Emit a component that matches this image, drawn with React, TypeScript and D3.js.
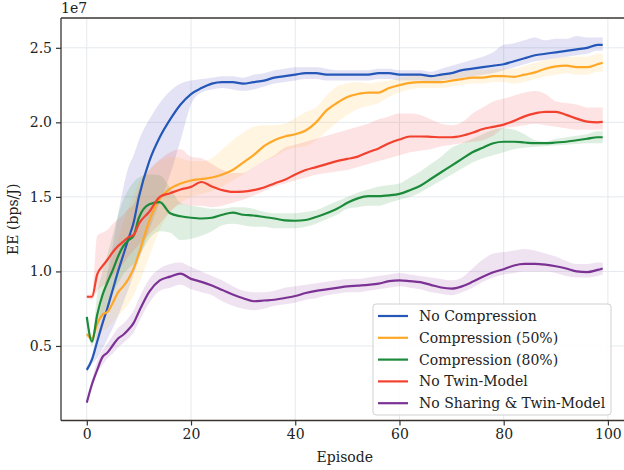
import { useEffect, useRef } from "react";
import * as d3 from "d3";

// episodes sampled from the curves (dense at the start, where they move fast)
const EPISODES = [0, 1, 2, 3, 4, 5, 6, 7, 8, 9, 10,
  12, 14, 16, 18, 20, 22, 24, 26, 28, 30, 32, 34, 36, 38, 40,
  42, 44, 46, 48, 50, 52, 54, 56, 58, 60, 62, 64, 66, 68, 70,
  72, 74, 76, 78, 80, 82, 84, 86, 88, 90, 92, 94, 96, 98, 99];

// values in units of 1e7 bps/J
const NO_COMP = [0.34, 0.41, 0.53, 0.65, 0.76, 0.88, 1.0, 1.11, 1.22, 1.33, 1.5,
  1.74, 1.9, 2.02, 2.12, 2.19, 2.23, 2.26, 2.27, 2.27, 2.26, 2.27, 2.28, 2.3, 2.31, 2.32,
  2.33, 2.33, 2.32, 2.32, 2.32, 2.32, 2.32, 2.33, 2.33, 2.32, 2.32, 2.32, 2.31, 2.32, 2.33,
  2.35, 2.36, 2.37, 2.38, 2.39, 2.41, 2.43, 2.45, 2.46, 2.47, 2.48, 2.49, 2.5, 2.52, 2.52];
const NO_COMP_HI = [0.36, 0.44, 0.62, 0.82, 1.0, 1.18, 1.38, 1.56, 1.7, 1.78, 1.88,
  2.02, 2.13, 2.21, 2.26, 2.28, 2.29, 2.3, 2.31, 2.31, 2.3, 2.32, 2.33, 2.35, 2.36, 2.37,
  2.37, 2.37, 2.36, 2.35, 2.35, 2.35, 2.35, 2.36, 2.36, 2.35, 2.35, 2.35, 2.34, 2.36, 2.38,
  2.4, 2.42, 2.44, 2.47, 2.52, 2.53, 2.55, 2.57, 2.55, 2.56, 2.56, 2.58, 2.57, 2.57, 2.57];
const NO_COMP_LO = [0.32, 0.38, 0.42, 0.48, 0.55, 0.62, 0.7, 0.79, 0.88, 0.98, 1.08,
  1.28, 1.46, 1.65, 1.88, 2.12, 2.2, 2.22, 2.23, 2.22, 2.21, 2.22, 2.24, 2.26, 2.27, 2.28,
  2.29, 2.29, 2.28, 2.28, 2.28, 2.28, 2.28, 2.29, 2.29, 2.28, 2.28, 2.28, 2.27, 2.28, 2.29,
  2.3, 2.31, 2.32, 2.33, 2.35, 2.37, 2.39, 2.41, 2.42, 2.43, 2.44, 2.45, 2.46, 2.48, 2.48];

const COMP50 = [0.58, 0.55, 0.65, 0.71, 0.73, 0.79, 0.86, 0.9, 0.95, 1.02, 1.12,
  1.34, 1.49, 1.555, 1.59, 1.61, 1.62, 1.63, 1.65, 1.68, 1.73, 1.78, 1.84, 1.88, 1.905, 1.92,
  1.945, 2.0, 2.08, 2.13, 2.17, 2.19, 2.2, 2.2, 2.23, 2.25, 2.265, 2.27, 2.27, 2.27, 2.28,
  2.29, 2.3, 2.3, 2.31, 2.31, 2.305, 2.32, 2.335, 2.36, 2.375, 2.38, 2.37, 2.37, 2.39, 2.4];
const COMP50_HI = [0.6, 0.58, 0.74, 0.88, 0.98, 1.1, 1.22, 1.33, 1.43, 1.52, 1.6,
  1.68, 1.74, 1.77, 1.76, 1.74, 1.74, 1.76, 1.82, 1.88, 1.93, 1.97, 1.98, 1.98, 1.99, 2.03,
  2.07, 2.1, 2.18, 2.24, 2.26, 2.27, 2.26, 2.27, 2.28, 2.3, 2.31, 2.32, 2.32, 2.32, 2.33,
  2.34, 2.35, 2.35, 2.36, 2.36, 2.36, 2.38, 2.4, 2.42, 2.43, 2.44, 2.44, 2.44, 2.46, 2.46];
const COMP50_LO = [0.56, 0.52, 0.56, 0.6, 0.62, 0.66, 0.7, 0.74, 0.78, 0.84, 0.92,
  1.1, 1.28, 1.4, 1.46, 1.5, 1.52, 1.54, 1.57, 1.61, 1.65, 1.7, 1.74, 1.77, 1.81, 1.83,
  1.84, 1.88, 1.94, 2.0, 2.05, 2.09, 2.11, 2.13, 2.17, 2.2, 2.22, 2.23, 2.23, 2.23, 2.24,
  2.25, 2.26, 2.26, 2.27, 2.27, 2.26, 2.27, 2.29, 2.31, 2.32, 2.33, 2.32, 2.32, 2.34, 2.34];

const COMP80 = [0.695, 0.53, 0.71, 0.84, 0.93, 1.01, 1.1, 1.17, 1.21, 1.24, 1.36,
  1.45, 1.465, 1.39, 1.37, 1.36, 1.355, 1.36, 1.38, 1.395, 1.38, 1.375, 1.365, 1.355, 1.343, 1.34,
  1.345, 1.365, 1.39, 1.42, 1.46, 1.49, 1.505, 1.505, 1.51, 1.52, 1.545, 1.575, 1.62, 1.665, 1.71,
  1.755, 1.8, 1.83, 1.86, 1.87, 1.87, 1.865, 1.86, 1.86, 1.865, 1.87, 1.88, 1.89, 1.9, 1.9];
const COMP80_HI = [0.7, 0.55, 0.85, 1.0, 1.12, 1.25, 1.38, 1.48, 1.55, 1.6, 1.63,
  1.65, 1.645, 1.56, 1.46, 1.44, 1.43, 1.42, 1.42, 1.43, 1.43, 1.42, 1.4, 1.39, 1.39, 1.39,
  1.4, 1.41, 1.44, 1.47, 1.5, 1.53, 1.55, 1.57, 1.58, 1.59, 1.63, 1.67, 1.72, 1.77, 1.83,
  1.86, 1.89, 1.92, 1.95, 1.96, 1.95, 1.92, 1.88, 1.87, 1.89, 1.9, 1.91, 1.92, 1.94, 1.94];
const COMP80_LO = [0.69, 0.5, 0.62, 0.7, 0.78, 0.85, 0.92, 0.98, 1.02, 1.05, 1.1,
  1.22, 1.27, 1.26, 1.21, 1.22, 1.24, 1.27, 1.31, 1.32, 1.31, 1.3, 1.3, 1.29, 1.29, 1.29,
  1.3, 1.32, 1.35, 1.38, 1.42, 1.43, 1.44, 1.44, 1.46, 1.48, 1.5, 1.53, 1.57, 1.61, 1.65,
  1.69, 1.73, 1.76, 1.78, 1.8, 1.82, 1.83, 1.835, 1.84, 1.845, 1.85, 1.855, 1.86, 1.86, 1.86];

const NO_TWIN = [0.83, 0.83, 0.98, 1.035, 1.08, 1.13, 1.17, 1.2, 1.23, 1.245, 1.32,
  1.4, 1.5, 1.525, 1.55, 1.567, 1.6, 1.57, 1.545, 1.533, 1.535, 1.545, 1.563, 1.59, 1.615, 1.65,
  1.68, 1.7, 1.72, 1.74, 1.755, 1.77, 1.8, 1.825, 1.86, 1.885, 1.905, 1.905, 1.903, 1.9, 1.9,
  1.91, 1.93, 1.955, 1.97, 1.985, 2.01, 2.04, 2.06, 2.07, 2.07, 2.05, 2.025, 2.005, 2.0, 2.003];
const NO_TWIN_HI = [0.84, 0.85, 1.24, 1.26, 1.28, 1.32, 1.35, 1.38, 1.42, 1.45, 1.55,
  1.68, 1.75, 1.8, 1.82, 1.77, 1.76, 1.72, 1.68, 1.66, 1.66, 1.7, 1.74, 1.78, 1.83, 1.85,
  1.87, 1.89, 1.91, 1.93, 1.95, 1.97, 1.99, 2.02, 2.04, 2.06, 2.06, 2.05, 2.02, 1.99, 1.98,
  2.0, 2.06, 2.1, 2.14, 2.16, 2.18, 2.2, 2.21, 2.19, 2.14, 2.13, 2.12, 2.1, 2.1, 2.1];
const NO_TWIN_LO = [0.82, 0.81, 0.87, 0.9, 0.93, 0.97, 1.01, 1.05, 1.1, 1.14, 1.18,
  1.25, 1.32, 1.4, 1.45, 1.44, 1.44, 1.43, 1.44, 1.46, 1.48, 1.51, 1.54, 1.57, 1.59, 1.61,
  1.63, 1.65, 1.66, 1.67, 1.68, 1.7, 1.72, 1.74, 1.76, 1.78, 1.8, 1.81, 1.82, 1.84, 1.85,
  1.86, 1.87, 1.88, 1.91, 1.96, 1.97, 1.98, 1.99, 1.98, 1.97, 1.96, 1.95, 1.95, 1.95, 1.95];

const NO_SHARE = [0.12, 0.245, 0.34, 0.425, 0.457, 0.505, 0.55, 0.575, 0.61, 0.655, 0.73,
  0.865, 0.94, 0.965, 0.985, 0.95, 0.93, 0.905, 0.875, 0.845, 0.82, 0.8, 0.805, 0.81, 0.822, 0.835,
  0.855, 0.87, 0.88, 0.89, 0.9, 0.905, 0.91, 0.918, 0.935, 0.94, 0.935, 0.928, 0.91, 0.892, 0.885,
  0.9, 0.93, 0.965, 0.995, 1.015, 1.04, 1.05, 1.05, 1.045, 1.035, 1.02, 1.0, 0.995, 1.01, 1.02];
const NO_SHARE_HI = [0.13, 0.27, 0.4, 0.47, 0.52, 0.57, 0.62, 0.65, 0.69, 0.74, 0.82,
  0.95, 1.02, 1.05, 1.06, 1.03, 1.0, 0.97, 0.94, 0.9, 0.87, 0.86, 0.86, 0.87, 0.89, 0.9,
  0.91, 0.92, 0.93, 0.94, 0.95, 0.95, 0.96, 0.97, 0.98, 0.99, 0.98, 0.97, 0.96, 0.95, 0.94,
  0.96, 1.02, 1.08, 1.12, 1.13, 1.14, 1.15, 1.14, 1.12, 1.1, 1.07, 1.05, 1.05, 1.06, 1.06];
const NO_SHARE_LO = [0.11, 0.21, 0.32, 0.37, 0.42, 0.45, 0.49, 0.52, 0.55, 0.59, 0.66,
  0.79, 0.87, 0.89, 0.91, 0.88, 0.86, 0.84, 0.8, 0.77, 0.75, 0.74, 0.75, 0.77, 0.78, 0.79,
  0.81, 0.82, 0.84, 0.85, 0.86, 0.86, 0.87, 0.88, 0.89, 0.9, 0.89, 0.88, 0.86, 0.85, 0.84,
  0.86, 0.89, 0.93, 0.96, 0.98, 0.99, 1.0, 1.0, 1.0, 0.99, 0.97, 0.96, 0.96, 0.97, 0.98];

const LABELS = ["No Compression", "Compression (50%)", "Compression (80%)", "No Twin-Model", "No Sharing & Twin-Model"];
const COLORS = ["#2457b8", "#ffa726", "#1b8a3a", "#f2412e", "#7b3294"];
const BAND_COLORS = ["#5a5ac4", "#ffc44d", "#3aa04e", "#f2565a", "#a05ab4"];
const X_TICKS = [0, 20, 40, 60, 80, 100];
const Y_TICKS = [0.5, 1.0, 1.5, 2.0, 2.5];

const series = [
  { mean: NO_COMP, hi: NO_COMP_HI, lo: NO_COMP_LO },
  { mean: COMP50, hi: COMP50_HI, lo: COMP50_LO },
  { mean: COMP80, hi: COMP80_HI, lo: COMP80_LO },
  { mean: NO_TWIN, hi: NO_TWIN_HI, lo: NO_TWIN_LO },
  { mean: NO_SHARE, hi: NO_SHARE_HI, lo: NO_SHARE_LO },
];

const FONT = "DejaVu Serif";

export default function App() {
  const svgRef = useRef<SVGSVGElement>(null);

  useEffect(() => {
    const width = 624;
    const height = 470;
    const left = 61, right = 628.5, top = 18, bottom = 420.5;

    const svg = d3.select(svgRef.current);
    svg.selectAll("*").remove();

    const x = d3.scaleLinear().domain([-4.95, 103.95]).range([left, right]);
    const y = d3.scaleLinear().domain([0, 2.7]).range([bottom, top]);

    svg.append("rect").attr("width", width).attr("height", height).attr("fill", "#fff");

    // grid
    const grid = svg.append("g").attr("stroke", "#e4e9ed").attr("stroke-width", 1);
    X_TICKS.forEach((t) => {
      grid.append("line").attr("x1", x(t)).attr("x2", x(t)).attr("y1", top).attr("y2", bottom);
    });
    Y_TICKS.forEach((t) => {
      grid.append("line").attr("x1", left).attr("x2", right).attr("y1", y(t)).attr("y2", y(t));
    });

    const area = d3.area<number>()
      .x((_, i) => x(EPISODES[i]))
      .curve(d3.curveMonotoneX);
    const line = d3.line<number>()
      .x((_, i) => x(EPISODES[i]))
      .y((d) => y(d))
      .curve(d3.curveMonotoneX);

    series.forEach((s, k) => {
      svg.append("path")
        .datum(s.mean)
        .attr("d", area.y0((_, i) => y(s.lo[i])).y1((_, i) => y(s.hi[i])))
        .attr("fill", BAND_COLORS[k])
        .attr("fill-opacity", 0.17);
    });

    series.forEach((s, k) => {
      svg.append("path")
        .datum(s.mean)
        .attr("d", line)
        .attr("fill", "none")
        .attr("stroke", COLORS[k])
        .attr("stroke-width", 2.2)
        .attr("stroke-linejoin", "round");
    });

    // axes
    const xAxis = svg.append("g")
      .attr("transform", `translate(0,${bottom})`)
      .call(d3.axisBottom(x).tickValues(X_TICKS).tickSize(5).tickPadding(4).tickSizeOuter(0));
    const yAxis = svg.append("g")
      .attr("transform", `translate(${left},0)`)
      .call(d3.axisLeft(y).tickValues(Y_TICKS).tickFormat(d3.format(".1f")).tickSize(5).tickPadding(4).tickSizeOuter(0));

    [xAxis, yAxis].forEach((g) => {
      g.select(".domain").remove();
      g.selectAll("line").attr("stroke", "#333").attr("stroke-width", 1.2);
      g.selectAll("text").attr("fill", "#222").style("font-family", FONT).style("font-size", "14px");
    });

    // spines (the right one falls outside the cropped picture)
    const spine = svg.append("g").attr("stroke", "#3a3430").attr("stroke-width", 1.3);
    spine.append("line").attr("x1", left).attr("x2", left).attr("y1", top).attr("y2", bottom);
    spine.append("line").attr("x1", left).attr("x2", width).attr("y1", top).attr("y2", top);
    spine.append("line").attr("x1", left).attr("x2", width).attr("y1", bottom).attr("y2", bottom);

    svg.append("text")
      .attr("x", left).attr("y", 13)
      .attr("font-family", FONT).attr("font-size", 14).attr("fill", "#222")
      .text("1e7");

    svg.append("text")
      .attr("x", (left + right) / 2).attr("y", 462)
      .attr("text-anchor", "middle")
      .attr("font-family", FONT).attr("font-size", 14).attr("fill", "#222")
      .text("Episode");

    svg.append("text")
      .attr("transform", `translate(18,${(top + bottom) / 2}) rotate(-90)`)
      .attr("text-anchor", "middle")
      .attr("font-family", FONT).attr("font-size", 14).attr("fill", "#222")
      .text("EE (bps/J)");

    // legend
    const lg = svg.append("g").attr("transform", "translate(373,304)");
    lg.append("rect")
      .attr("width", 238).attr("height", 111).attr("rx", 3)
      .attr("fill", "#fff").attr("fill-opacity", 0.85)
      .attr("stroke", "#d0d0d0").attr("stroke-width", 1);
    LABELS.forEach((lab, i) => {
      const cy = 12 + i * 21.8;
      lg.append("line")
        .attr("x1", 5).attr("x2", 35).attr("y1", cy).attr("y2", cy)
        .attr("stroke", COLORS[i]).attr("stroke-width", 2.2);
      lg.append("text")
        .attr("x", 46).attr("y", cy + 5)
        .attr("font-family", FONT).attr("font-size", 14).attr("fill", "#222")
        .text(lab);
    });
  }, []);

  return (
    <svg
      ref={svgRef}
      width={624}
      height={470}
      style={{ position: "absolute", left: 0, top: 0 }}
    />
  );
}
